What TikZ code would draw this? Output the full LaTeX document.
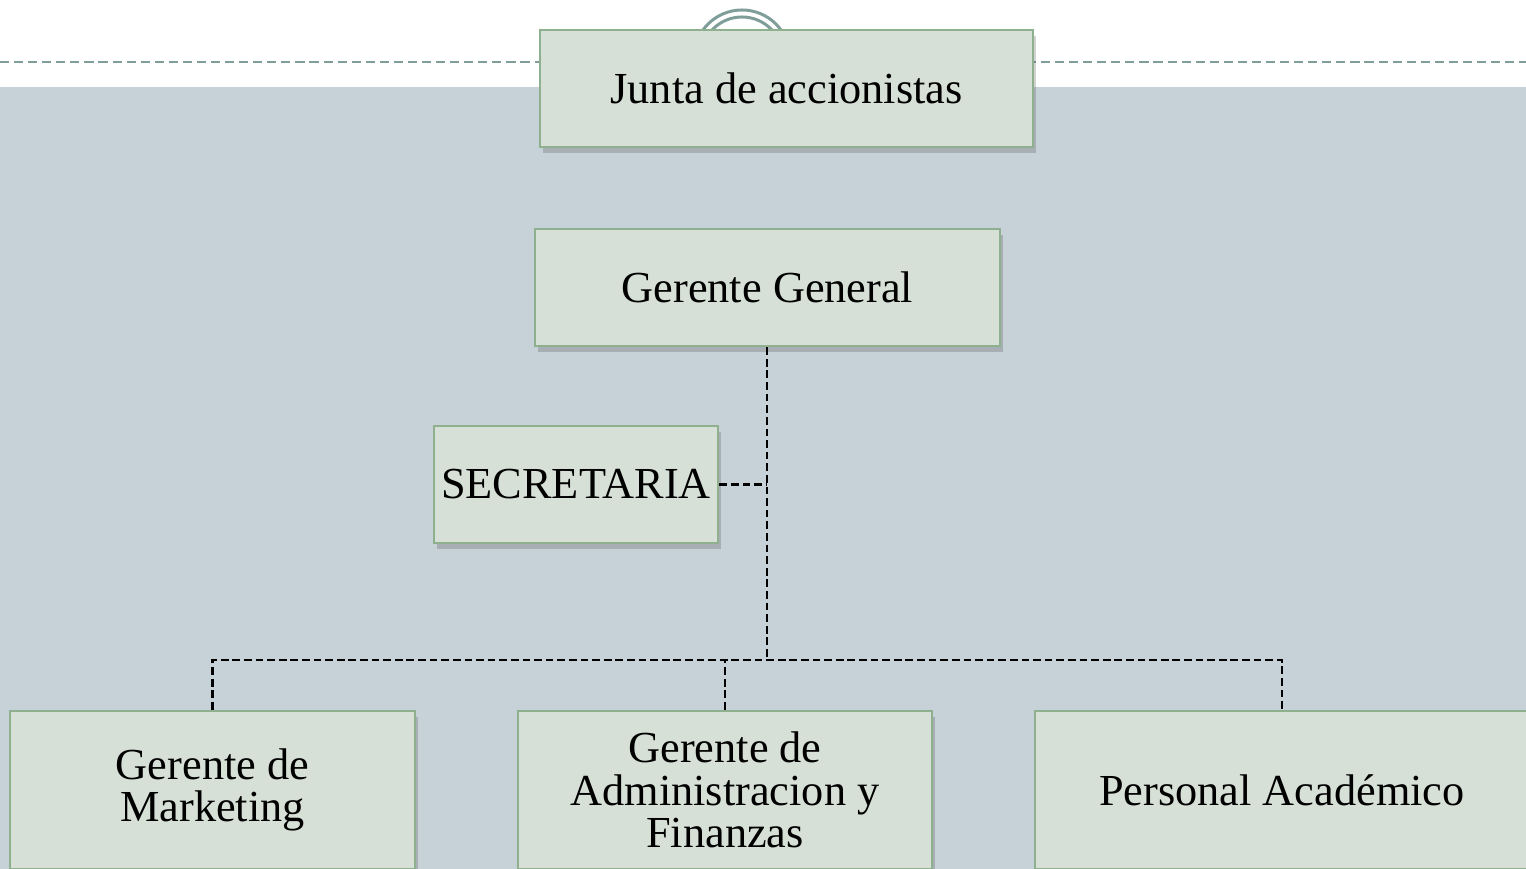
\documentclass[tikz,border=0pt]{standalone}
\usepackage{fontspec}
\setmainfont{Liberation Serif}
\usetikzlibrary{shadows}
\definecolor{panel}{RGB}{198,209,216}
\definecolor{rule}{RGB}{127,158,154}
\definecolor{boxfill}{RGB}{214,224,214}
\definecolor{boxline}{RGB}{143,176,143}
\tikzset{
  cargo/.style={draw=boxline, fill=boxfill, line width=0.7pt, inner sep=0pt,
    align=center, font=\fontsize{12.6}{12.1}\selectfont,
    drop shadow={shadow xshift=0.3mm, shadow yshift=-0.6mm, opacity=0.25, fill=black!70}},
  link/.style={draw=black, line width=0.65pt, dash pattern=on 2.2pt off 1.1pt}
}
\begin{document}
\begin{tikzpicture}[x=0.01cm, y=-0.01cm]
\useasboundingbox (0,0) rectangle (1526,869);
\fill[panel] (0,87) rectangle (1526,869);
\draw[rule, line width=0.7pt, dash pattern=on 2.6pt off 1.4pt] (0,62) -- (1526,62);
\draw[rule, line width=0.85pt] (742,58) circle (0.48cm);
\draw[rule, line width=0.85pt] (742,58) circle (0.41cm);
% nodes
\node[cargo, minimum width=4.93cm, minimum height=1.17cm] (junta) at (786.5,88.5) {Junta de accionistas};
\node[cargo, minimum width=4.65cm, minimum height=1.17cm] (gg) at (767.5,287.5) {Gerente General};
\node[cargo, minimum width=2.84cm, minimum height=1.17cm] (sec) at (576,484.5) {SECRETARIA};
\node[cargo, minimum width=4.05cm, minimum height=1.58cm] (mkt) at (212.5,790) {Gerente de\\Marketing};
\node[cargo, minimum width=4.14cm, minimum height=1.58cm] (adm) at (725,790) {Gerente de\\Administracion y\\Finanzas};
\node[cargo, minimum width=4.94cm, minimum height=1.58cm] (pers) at (1282,790) {Personal Académico};
\coordinate (bus) at (767,660);
% connectors
\draw[link] (gg.south -| bus) -- (bus);
\draw[link] (sec.east) -- (sec.east -| bus);
\draw[link] (mkt.north) |- (pers.north |- bus) -- (pers.north);
\draw[link] (adm.north) -- (adm.north |- bus);
\end{tikzpicture}
\end{document}
